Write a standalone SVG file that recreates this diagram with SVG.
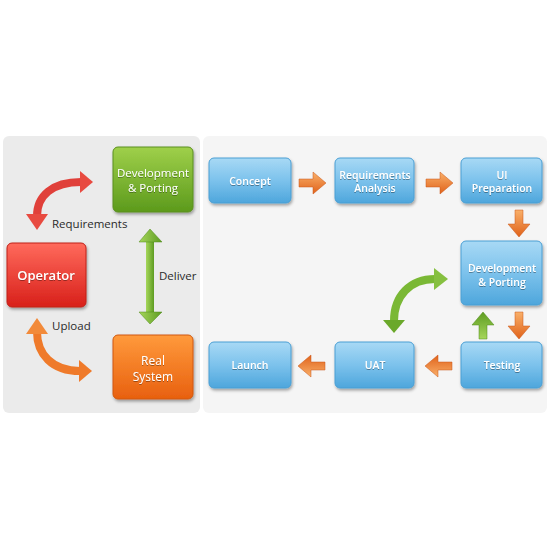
<svg xmlns="http://www.w3.org/2000/svg" width="550" height="550" viewBox="0 0 550 550">
<defs>
<linearGradient id="gBlue" x1="0" y1="0" x2="0" y2="1"><stop offset="0" stop-color="#a8d9f5"/><stop offset="0.5" stop-color="#7cc2ec"/><stop offset="1" stop-color="#4ea6dc"/></linearGradient>
<linearGradient id="gGreen" x1="0" y1="0" x2="0" y2="1"><stop offset="0" stop-color="#9fd04a"/><stop offset="1" stop-color="#5c9a1c"/></linearGradient>
<linearGradient id="gRed" x1="0" y1="0" x2="0" y2="1"><stop offset="0" stop-color="#ff6a5c"/><stop offset="1" stop-color="#d8201a"/></linearGradient>
<linearGradient id="gOrange" x1="0" y1="0" x2="0" y2="1"><stop offset="0" stop-color="#ff9a3c"/><stop offset="1" stop-color="#e8600f"/></linearGradient>
<linearGradient id="aOr" x1="0" y1="0" x2="0" y2="1"><stop offset="0" stop-color="#f9b06a"/><stop offset="1" stop-color="#e0621a"/></linearGradient>
<linearGradient id="aOrV" x1="0" y1="0" x2="1" y2="0"><stop offset="0" stop-color="#f9b06a"/><stop offset="1" stop-color="#e0621a"/></linearGradient>
<linearGradient id="aGrV" x1="0" y1="0" x2="1" y2="0"><stop offset="0" stop-color="#a6d65a"/><stop offset="1" stop-color="#5e9c22"/></linearGradient>
<filter id="sh" x="-20%" y="-20%" width="140%" height="150%"><feDropShadow dx="1" dy="2" stdDeviation="1.5" flood-color="#000" flood-opacity="0.35"/></filter>
<filter id="ts" x="-10%" y="-30%" width="120%" height="160%"><feDropShadow dx="0" dy="1" stdDeviation="0.6" flood-color="#000" flood-opacity="0.35"/></filter>
<path id="arR" d="M0,-4 L14,-4 L14,-11 L27,0 L14,11 L14,4 L0,4 Z"/>
<style>
.box{filter:url(#sh);stroke-width:1}
.blue{fill:url(#gBlue);stroke:#4a9fd4}
.t{font-family:"Open Sans","DejaVu Sans",sans-serif;fill:#fff;text-anchor:middle;filter:url(#ts)}
.tb{font-size:10.5px;font-weight:600}
.lab{font-family:"Open Sans","DejaVu Sans",sans-serif;font-size:11.5px;fill:#2a2a2a}
.ao{fill:url(#aOr);stroke:#c8561a;stroke-width:0.5}
.aov{fill:url(#aOrV);stroke:#c8561a;stroke-width:0.5}
.ag{fill:url(#aGrV);stroke:#4e8a1a;stroke-width:0.5}
</style>
</defs>
<rect width="550" height="550" fill="#fff"/>
<rect x="3" y="136" width="197" height="277" rx="6" fill="#ebebeb"/>
<rect x="203" y="136" width="344" height="277" rx="6" fill="#f5f5f5"/>

<g id="connectors">
  <path d="M37,216 C37,196 52,182 81,182" fill="none" stroke="#e0403a" stroke-width="8"/>
  <polygon points="26,214 48,214 37,230" fill="#e84a40"/>
  <polygon points="80,171 93,182 80,193" fill="#e84a40"/>
  <path d="M37,332 C37,354 52,371 80,371" fill="none" stroke="#ef7a2a" stroke-width="8"/>
  <polygon points="26,334 48,334 37,318" fill="#f28a3a"/>
  <polygon points="79,360 92,371 79,382" fill="#ef7a2a"/>
  <rect x="146" y="240" width="8" height="74" fill="url(#aGrV)"/>
  <polygon class="ag" points="139,242 150,229 162,242"/>
  <polygon class="ag" points="139,312 150,324 162,312"/>
  <use href="#arR" class="ao" transform="translate(299,183)"/>
  <use href="#arR" class="ao" transform="translate(426,183)"/>
  <use href="#arR" class="aov" transform="translate(519,210) rotate(90)"/>
  <use href="#arR" class="aov" transform="translate(519,312) rotate(90)"/>
  <use href="#arR" class="ao" transform="translate(452,366) rotate(180)"/>
  <use href="#arR" class="ao" transform="translate(325,366) rotate(180)"/>
  <use href="#arR" class="ag" transform="translate(483,339) rotate(-90)"/>
  <path d="M394,321 C394,296 410,279 435,279" fill="none" stroke="#7ab835" stroke-width="8"/>
  <polygon points="383,320 405,320 394,333" fill="#6aa82a"/>
  <polygon points="434,268 448,279 434,290" fill="#86c040"/>
</g>

<g id="dev-left"><rect class="box" x="113" y="147" width="80" height="65" rx="5" fill="url(#gGreen)" stroke="#5a8f1e"/>
<text class="t" font-size="11.5" x="153" y="177">Development</text><text class="t" font-size="11.5" x="153" y="192">&amp; Porting</text></g>
<g id="operator"><rect class="box" x="7" y="243" width="79" height="64" rx="5" fill="url(#gRed)" stroke="#c02018"/>
<text class="t" font-size="13" font-weight="600" x="46" y="280">Operator</text></g>
<g id="real-system"><rect class="box" x="113" y="335" width="80" height="64" rx="5" fill="url(#gOrange)" stroke="#d0580f"/>
<text class="t" font-size="12" x="153" y="365">Real</text><text class="t" font-size="12" x="153" y="381">System</text></g>

<text class="lab" x="52" y="228">Requirements</text>
<text class="lab" x="159" y="280">Deliver</text>
<text class="lab" x="52" y="330">Upload</text>

<g id="concept"><rect class="box blue" x="209" y="158" width="82" height="45" rx="5"/><text class="t tb" x="250" y="185">Concept</text></g>
<g id="req-analysis"><rect class="box blue" x="335" y="158" width="79" height="45" rx="5"/><text class="t tb" x="375" y="179">Requirements</text><text class="t tb" x="375" y="192">Analysis</text></g>
<g id="ui-prep"><rect class="box blue" x="461" y="158" width="81" height="45" rx="5"/><text class="t tb" x="502" y="179">UI</text><text class="t tb" x="502" y="192">Preparation</text></g>
<g id="dev-right"><rect class="box blue" x="461" y="241" width="81" height="64" rx="5"/><text class="t tb" x="502" y="272">Development</text><text class="t tb" x="502" y="286">&amp; Porting</text></g>
<g id="testing"><rect class="box blue" x="461" y="342" width="81" height="46" rx="5"/><text class="t tb" x="502" y="369">Testing</text></g>
<g id="uat"><rect class="box blue" x="335" y="342" width="79" height="46" rx="5"/><text class="t tb" x="375" y="369">UAT</text></g>
<g id="launch"><rect class="box blue" x="209" y="342" width="82" height="46" rx="5"/><text class="t tb" x="250" y="369">Launch</text></g>
</svg>
